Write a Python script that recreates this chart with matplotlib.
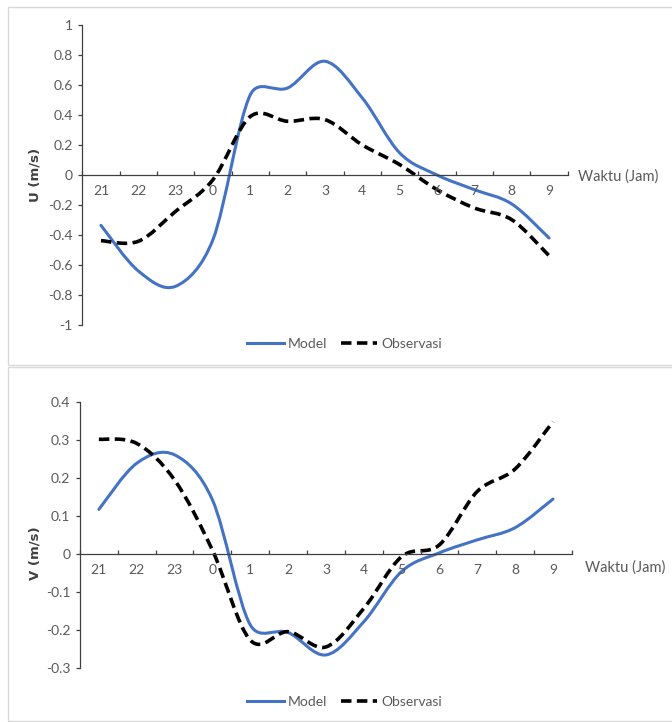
import numpy as np
import matplotlib
matplotlib.use('Agg')
from matplotlib import pyplot as plt
from matplotlib.path import Path
from matplotlib.patches import PathPatch, Rectangle
from matplotlib.lines import Line2D

# Hours (categories) and wind components
hours = ['21', '22', '23', '0', '1', '2', '3', '4', '5', '6', '7', '8', '9']
u_model = [-0.336, -0.64, -0.742, -0.43, 0.535, 0.58, 0.758, 0.513, 0.147, 0.0, -0.098, -0.193, -0.42]
u_obs = [-0.438, -0.442, -0.242, -0.031, 0.39, 0.358, 0.369, 0.20, 0.069, -0.098, -0.22, -0.298, -0.538]
v_model = [0.117, 0.238, 0.26, 0.142, -0.186, -0.206, -0.265, -0.178, -0.046, 0.003, 0.037, 0.069, 0.144]
v_obs = [0.301, 0.29, 0.194, 0.01, -0.226, -0.204, -0.244, -0.143, -0.007, 0.024, 0.164, 0.223, 0.347]

BLUE = '#4472C4'
GREY = '#595959'
AXCOL = '#404040'
TICKFONT = ['Lato', 'DejaVu Sans']
OBS_DASH = (0, (2.9, 1.5))


def smooth_path(ax, y):
    # Excel-style smoothed line: Bezier through each point, control arms
    # capped at half the segment length (measured on screen)
    p = ax.transData.transform(np.column_stack([np.arange(len(y)), y]))
    n = len(p)
    verts = [p[0]]
    codes = [Path.MOVETO]
    for i in range(n - 1):
        p0, p1, p2, p3 = p[max(i - 1, 0)], p[i], p[i + 1], p[min(i + 2, n - 1)]
        half = np.hypot(*(p2 - p1)) / 2.0
        a = (p2 - p0) / 6.0
        b = (p3 - p1) / 6.0
        la, lb = np.hypot(*a), np.hypot(*b)
        if la > half:
            a = a * half / la
        if lb > half:
            b = b * half / lb
        verts += [p1 + a, p2 - b, p2]
        codes += [Path.CURVE4] * 3
    verts = ax.transData.inverted().transform(np.array(verts))
    return Path(verts, codes)


def draw_panel(ax, model, obs, yticks, ylabel, fig_label_xy, fig_ylabel_xy, leg_y):
    ax.set_xlim(-0.5, len(hours) - 0.5)
    ax.set_ylim(yticks[0], yticks[-1])
    ax.add_patch(PathPatch(smooth_path(ax, model), fill=False, edgecolor=BLUE,
                           lw=2.2, capstyle='round', joinstyle='round'))
    ax.add_patch(PathPatch(smooth_path(ax, obs), fill=False, edgecolor='black',
                           lw=2.6, linestyle=OBS_DASH, capstyle='butt'))

    for s in ['top', 'right']:
        ax.spines[s].set_visible(False)
    ax.spines['bottom'].set_position(('data', 0))
    for s in ['left', 'bottom']:
        ax.spines[s].set_color(AXCOL)
        ax.spines[s].set_linewidth(0.9)

    ax.set_xticks(range(len(hours)))
    ax.set_xticklabels(hours)
    ax.set_xticks(np.arange(-0.5, len(hours), 1.0), minor=True)
    ax.tick_params(axis='x', which='major', length=0, pad=7, labelsize=10,
                   labelcolor=GREY)
    ax.tick_params(axis='x', which='minor', direction='in', length=3,
                   color=AXCOL, width=0.9)
    ax.set_yticks(yticks)
    ax.set_yticklabels(['%g' % t for t in yticks])
    ax.tick_params(axis='y', direction='out', length=3, width=0.9, color=AXCOL,
                   pad=4, labelsize=10, labelcolor=GREY)
    for lab in ax.get_xticklabels() + ax.get_yticklabels():
        lab.set_family(TICKFONT)

    fig.text(fig_label_xy[0], fig_label_xy[1], 'Waktu (Jam)', family=TICKFONT,
             fontsize=10.5, color=GREY, va='center', ha='left')
    fig.text(fig_ylabel_xy[0], fig_ylabel_xy[1], ylabel, fontsize=9.5,
             fontweight='bold', color=AXCOL, rotation=90, va='center', ha='center')

    handles = [Line2D([], [], color=BLUE, lw=2.2),
               Line2D([], [], color='black', lw=2.6, linestyle=OBS_DASH)]
    fig.legend(handles, ['Model', 'Observasi'], loc='center',
               bbox_to_anchor=(0.513, leg_y), ncol=2, frameon=False,
               handlelength=2.6, handletextpad=0.3, columnspacing=1.0,
               prop={'family': TICKFONT, 'size': 10}, labelcolor=GREY)


fig = plt.figure(figsize=(6.72, 7.22), dpi=100)

# Chart area borders
fig.patches.append(Rectangle((0.0119, 0.4945), 1.2, 0.4958, transform=fig.transFigure,
                             fill=False, edgecolor='#D9D9D9', lw=1.0))
fig.patches.append(Rectangle((0.0119, 0.0014), 1.2, 0.4903, transform=fig.transFigure,
                             fill=False, edgecolor='#D9D9D9', lw=1.0))

ax1 = fig.add_axes([0.1225, 0.5499, 0.7223, 0.4155])
draw_panel(ax1, u_model, u_obs, [-1, -0.8, -0.6, -0.4, -0.2, 0, 0.2, 0.4, 0.6, 0.8, 1],
           'U (m/s)', (0.860, 0.756), (0.052, 0.7576), 0.5235)

ax2 = fig.add_axes([0.119, 0.0744, 0.732, 0.3695])
draw_panel(ax2, v_model, v_obs, [-0.3, -0.2, -0.1, 0, 0.1, 0.2, 0.3, 0.4],
           'V (m/s)', (0.8705, 0.2133), (0.052, 0.234), 0.0277)

plt.savefig('out.png', dpi=100)
